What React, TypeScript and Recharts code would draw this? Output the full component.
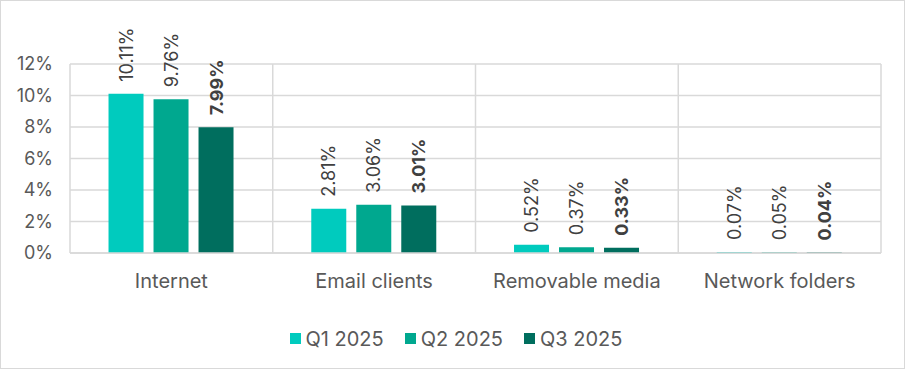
import { BarChart, Bar, XAxis, YAxis, CartesianGrid, Legend } from "recharts";

const categories = ["Internet", "Email clients", "Removable media", "Network folders"];
const q1 = [10.11, 2.81, 0.52, 0.07];
const q2 = [9.76, 3.06, 0.37, 0.05];
const q3 = [7.99, 3.01, 0.33, 0.04];
const yTicks = [0, 2, 4, 6, 8, 10, 12];

const SERIES = [
  { key: "q1", name: "Q1 2025", color: "#00CBBE", bold: false },
  { key: "q2", name: "Q2 2025", color: "#00A88F", bold: false },
  { key: "q3", name: "Q3 2025", color: "#006E5E", bold: true },
];

const FONT = "Inter, 'Noto Sans', sans-serif";
const GRID = "#D9D9D9";

const data = categories.map((name, i) => ({ name, q1: q1[i], q2: q2[i], q3: q3[i] }));

function makeLabel(bold: boolean) {
  return (props: any) => {
    const { x, y, width, value } = props;
    const cx = x + width / 2;
    const cy = y - 12;
    return (
      <text
        x={cx}
        y={cy}
        transform={`rotate(-90 ${cx} ${cy})`}
        textAnchor="start"
        dominantBaseline="central"
        fill="#404040"
        fontSize={18}
        fontWeight={bold ? 700 : 400}
        fontFamily={FONT}
      >
        {`${value.toFixed(2)}%`}
      </text>
    );
  };
}

function LegendContent() {
  return (
    <div style={{ display: "flex", justifyContent: "center", gap: 21, fontFamily: FONT }}>
      {SERIES.map((s) => (
        <div key={s.key} style={{ display: "flex", alignItems: "center", gap: 5 }}>
          <div style={{ width: 11, height: 11, background: s.color }} />
          <span style={{ fontSize: 20, color: "#595959" }}>{s.name}</span>
        </div>
      ))}
    </div>
  );
}

export default function App() {
  return (
    <div
      style={{
        position: "absolute",
        top: 0,
        left: 0,
        width: 905,
        height: 369,
        boxSizing: "border-box",
        border: `1.5px solid ${GRID}`,
        background: "#fff",
      }}
    >
      <div style={{ position: "absolute", top: -1.5, left: -1.5 }}>
        <BarChart
          width={905}
          height={369}
          data={data}
          margin={{ top: 64, right: 24, left: 0, bottom: 0 }}
          barCategoryGap="19%"
          barGap={10}
        >
          <CartesianGrid
            stroke={GRID}
            strokeWidth={1.5}
            verticalCoordinatesGenerator={({ offset }: any) =>
              categories.map((_, i) => offset.left + (i * offset.width) / categories.length).concat(offset.left + offset.width)
            }
          />
          <XAxis
            dataKey="name"
            height={40}
            tickSize={0}
            tickMargin={21}
            axisLine={{ stroke: GRID, strokeWidth: 1.5 }}
            tick={{ fill: "#595959", fontSize: 20, fontFamily: FONT }}
          />
          <YAxis
            width={70}
            domain={[0, 12]}
            ticks={yTicks}
            tickSize={0}
            tickMargin={17}
            axisLine={false}
            tickFormatter={(v: number) => `${v}%`}
            tick={{ fill: "#595959", fontSize: 18, fontFamily: FONT }}
          />
          <Legend
            verticalAlign="bottom"
            content={() => <LegendContent />}
            wrapperStyle={{ height: 76, paddingTop: 34, paddingLeft: 32, boxSizing: "border-box" }}
          />
          {SERIES.map((s) => (
            <Bar
              key={s.key}
              dataKey={s.key}
              name={s.name}
              fill={s.color}
              isAnimationActive={false}
              label={makeLabel(s.bold)}
            />
          ))}
        </BarChart>
      </div>
    </div>
  );
}
